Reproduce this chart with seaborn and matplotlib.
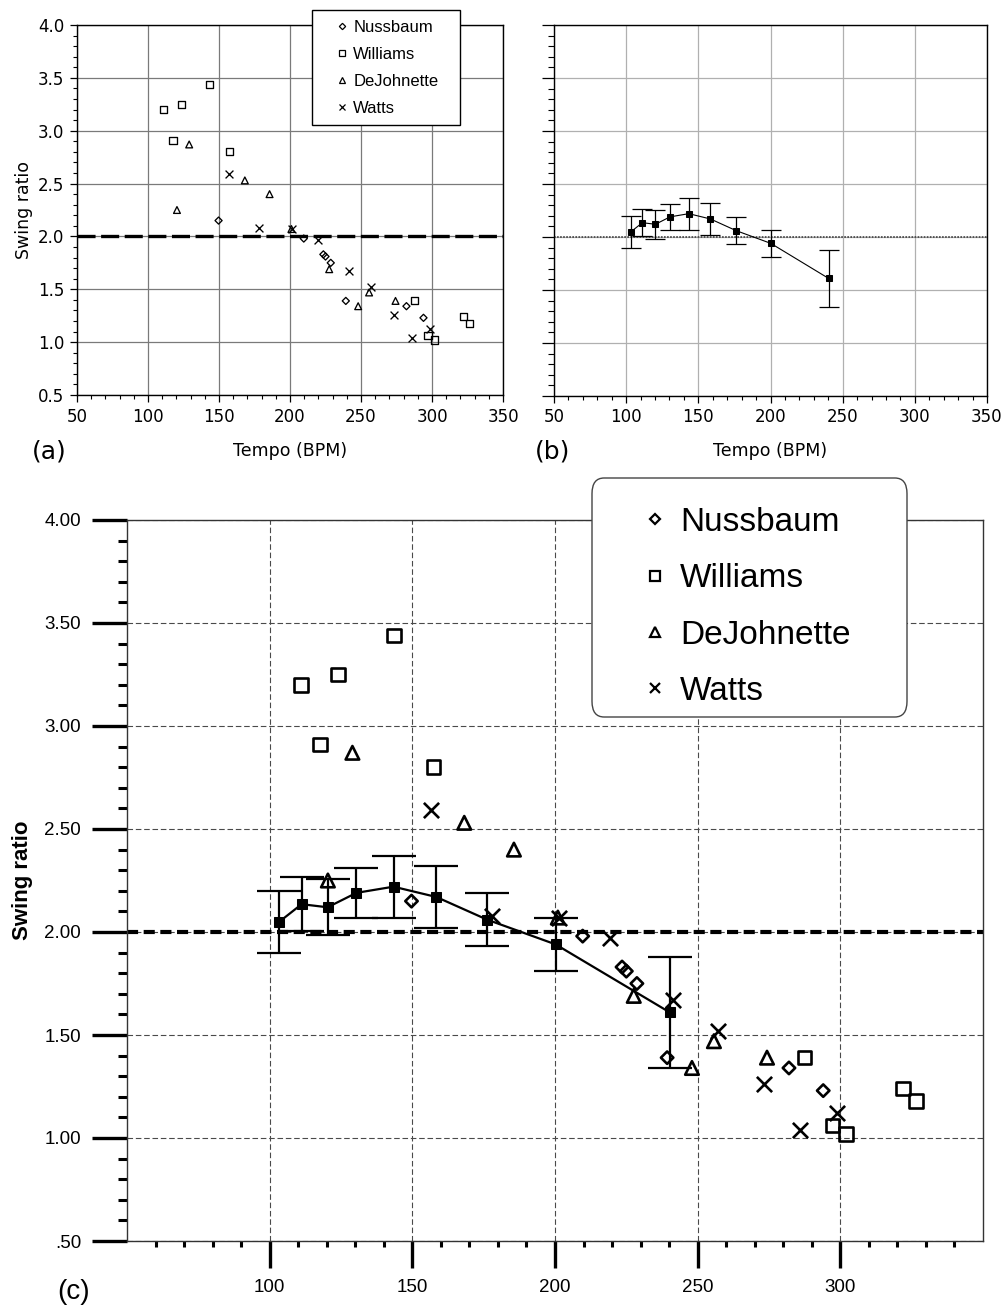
import numpy as np
import pandas as pd
import matplotlib
matplotlib.use("Agg")
import matplotlib.pyplot as plt
import seaborn as sns
from matplotlib.lines import Line2D
from matplotlib.patches import FancyBboxPatch, Rectangle
from matplotlib.ticker import FixedLocator

# ---------------- data ----------------
artists = ["Nussbaum", "Williams", "DeJohnette", "Watts"]

nussbaum_tempo = [149.7, 209.7, 223.5, 225.0, 228.7, 239.3, 282.0, 294.0]
nussbaum_ratio = [2.15, 1.98, 1.83, 1.81, 1.75, 1.39, 1.34, 1.23]

williams_tempo = [111.0, 117.6, 123.9, 143.6, 157.4, 287.4, 297.2, 302.0, 322.0, 326.6]
williams_ratio = [3.20, 2.91, 3.25, 3.44, 2.80, 1.39, 1.06, 1.02, 1.24, 1.18]

dejohnette_tempo = [120.4, 129.0, 168.2, 185.6, 201.0, 227.6, 248.0, 255.7, 274.3]
dejohnette_ratio = [2.25, 2.87, 2.53, 2.40, 2.07, 1.69, 1.34, 1.47, 1.39]

watts_tempo = [156.7, 178.0, 201.3, 219.4, 241.2, 257.1, 273.3, 286.0, 298.9]
watts_ratio = [2.59, 2.08, 2.07, 1.97, 1.67, 1.52, 1.26, 1.04, 1.12]

mean_tempo = [103.4, 111.2, 120.3, 130.4, 143.4, 158.4, 176.2, 200.2, 240.2]
mean_ratio = [2.05, 2.135, 2.12, 2.19, 2.22, 2.17, 2.06, 1.94, 1.61]
mean_err = [0.15, 0.13, 0.135, 0.12, 0.15, 0.15, 0.13, 0.13, 0.27]

reference_ratio = 2.0

ab_xticks = [50, 100, 150, 200, 250, 300, 350]
ab_xtick_labels = ["50", "100", "150", "200", "250", "300", "350"]
a_yticks = [0.5, 1.0, 1.5, 2.0, 2.5, 3.0, 3.5, 4.0]
a_ytick_labels = ["0.5", "1.0", "1.5", "2.0", "2.5", "3.0", "3.5", "4.0"]
c_xticks = [100, 150, 200, 250, 300]
c_xtick_labels = ["100", "150", "200", "250", "300"]
c_yticks = [0.5, 1.0, 1.5, 2.0, 2.5, 3.0, 3.5, 4.0]
c_ytick_labels = [".50", "1.00", "1.50", "2.00", "2.50", "3.00", "3.50", "4.00"]

series = {
    "Nussbaum": (nussbaum_tempo, nussbaum_ratio),
    "Williams": (williams_tempo, williams_ratio),
    "DeJohnette": (dejohnette_tempo, dejohnette_ratio),
    "Watts": (watts_tempo, watts_ratio),
}
markers = {"Nussbaum": "D", "Williams": "s", "DeJohnette": "^", "Watts": "x"}

# ---------------- style ----------------
sns.set_theme(style="ticks")
plt.rcParams["font.family"] = ["DejaVu Sans"]
plt.rcParams["lines.scale_dashes"] = False
plt.rcParams["axes.edgecolor"] = "black"
plt.rcParams["xtick.color"] = "black"
plt.rcParams["ytick.color"] = "black"
plt.rcParams["text.color"] = "black"
plt.rcParams["axes.labelcolor"] = "black"

W, H = 1007, 1305
fig = plt.figure(figsize=(W / 100, H / 100), dpi=100)
fig.patch.set_facecolor("white")


def ax_px(l, t, r, b):
    return fig.add_axes([l / W, 1 - b / H, (r - l) / W, (b - t) / H])


def fx(px):
    return px / W


def fy(py):
    return 1 - py / H


def draw_scatter(ax, sizes, lw):
    for name in artists:
        t, r = series[name]
        m = markers[name]
        if m == "x":
            sns.scatterplot(x=t, y=r, ax=ax, marker="x", s=sizes[name],
                            color="black", linewidth=lw, zorder=5, legend=False)
        else:
            sns.scatterplot(x=t, y=r, ax=ax, marker=m, s=sizes[name],
                            facecolor="none", edgecolor="black", linewidth=lw,
                            zorder=5, legend=False)


def draw_means(ax, lw, ms, capsize, elw):
    ax.errorbar(mean_tempo, mean_ratio, yerr=mean_err, fmt="none", ecolor="black",
                elinewidth=elw, capsize=capsize, capthick=elw, zorder=3)
    sns.lineplot(x=mean_tempo, y=mean_ratio, ax=ax, color="black", linewidth=lw,
                 marker="s", markersize=ms, markeredgecolor="black",
                 markerfacecolor="black", sort=False, zorder=4, legend=False)


# ---------------- panel (a) ----------------
axa = ax_px(77, 25, 503, 395)
axa.set_axisbelow(True)
axa.grid(True, which="major", color="#7a7a7a", lw=0.9)
draw_scatter(axa, {"Nussbaum": 13, "Williams": 26, "DeJohnette": 24, "Watts": 32}, 0.95)
axa.axhline(reference_ratio, color="black", lw=2.4, dashes=(13, 4), zorder=2)
axa.set_xlim(50, 350)
axa.set_ylim(0.5, 4.0)
axa.set_xticks(ab_xticks)
axa.set_xticklabels(ab_xtick_labels)
axa.set_yticks(a_yticks)
axa.set_yticklabels(a_ytick_labels)
axa.xaxis.set_minor_locator(FixedLocator(np.arange(50, 351, 10)))
axa.yaxis.set_minor_locator(FixedLocator(np.arange(0.5, 4.01, 0.1)))
axa.tick_params(which="major", length=5, width=0.9, labelsize=12, direction="out", pad=4)
axa.tick_params(which="minor", length=3, width=0.8, direction="out")
for s in axa.spines.values():
    s.set_linewidth(1.0)
    s.set_visible(True)
axa.set_xlabel("Tempo (BPM)", fontsize=12.5)
axa.xaxis.set_label_coords(0.5, -0.127)
axa.xaxis.label.set_va("top")
axa.set_ylabel("Swing ratio", fontsize=12.5)
axa.yaxis.set_label_coords(-0.103, 0.5)

# ---------------- panel (b) ----------------
axb = ax_px(554, 25, 987, 396)
axb.set_axisbelow(True)
axb.grid(True, which="major", color="#b0b0b0", lw=0.9)
axb.axhline(reference_ratio, color="#333333", lw=1.1, dashes=(1.2, 1.0), zorder=2)
draw_means(axb, lw=0.8, ms=4.5, capsize=7.5, elw=0.9)
axb.set_xlim(50, 350)
axb.set_ylim(0.5, 4.0)
axb.set_xticks(ab_xticks)
axb.set_xticklabels(ab_xtick_labels)
axb.set_yticks(a_yticks)
axb.set_yticklabels([])
axb.xaxis.set_minor_locator(FixedLocator(np.arange(50, 351, 10)))
axb.yaxis.set_minor_locator(FixedLocator(np.arange(0.5, 4.01, 0.1)))
axb.tick_params(axis="y", which="major", length=9, width=0.9, direction="out")
axb.tick_params(axis="y", which="minor", length=4, width=0.8, direction="out")
axb.tick_params(axis="x", which="major", length=5, width=0.9, labelsize=12, direction="out", pad=4)
axb.tick_params(axis="x", which="minor", length=3, width=0.8, direction="out")
for s in axb.spines.values():
    s.set_linewidth(1.0)
    s.set_visible(True)
axb.set_xlabel("Tempo (BPM)", fontsize=12.5)
axb.xaxis.set_label_coords(0.5, -0.124)
axb.xaxis.label.set_va("top")
axb.set_ylabel("")

# ---------------- panel (c) ----------------
axc = ax_px(127, 520, 983, 1241)
axc.set_axisbelow(True)
axc.grid(True, which="major", color="#4a4a4a", lw=0.8, linestyle=(0, (4, 2)))
axc.axhline(reference_ratio, color="black", lw=3.0, dashes=(8, 4), zorder=2)
draw_means(axc, lw=1.6, ms=7.5, capsize=16, elw=1.6)
draw_scatter(axc, {"Nussbaum": 40, "Williams": 95, "DeJohnette": 95, "Watts": 120}, 1.9)
axc.set_xlim(50, 350)
axc.set_ylim(0.5, 4.0)
axc.set_xticks(c_xticks)
axc.set_xticklabels(c_xtick_labels, fontfamily="Liberation Sans")
axc.set_yticks(c_yticks)
axc.set_yticklabels(c_ytick_labels, fontfamily="Liberation Sans")
axc.xaxis.set_minor_locator(FixedLocator(np.arange(60, 341, 10)))
axc.yaxis.set_minor_locator(FixedLocator(np.arange(0.6, 3.95, 0.1)))
axc.tick_params(axis="y", which="major", length=25, width=2.4, direction="out", labelsize=13.5, pad=8)
axc.tick_params(axis="y", which="minor", length=6.5, width=2.2, direction="out")
axc.tick_params(axis="x", which="major", length=19.5, width=2.4, direction="out", labelsize=13.5, pad=8)
axc.tick_params(axis="x", which="minor", length=4.5, width=2.2, direction="out")
for s in axc.spines.values():
    s.set_linewidth(1.0)
    s.set_color("#333333")
    s.set_visible(True)
axc.set_xlabel("")
axc.set_ylabel("Swing ratio", fontsize=16, fontweight="bold", fontfamily="Liberation Sans")
axc.yaxis.set_label_coords(-0.11, 0.5)

# ---------------- legends ----------------
# panel (a) legend
fig.patches.append(Rectangle((fx(312), fy(125)), fx(460) - fx(312), fy(10) - fy(125),
                             transform=fig.transFigure, facecolor="white",
                             edgecolor="black", lw=1.0, zorder=3))
ms_a = {"Nussbaum": 3.2, "Williams": 4.2, "DeJohnette": 4.2, "Watts": 4.6}
handles_a = [Line2D([], [], linestyle="none", marker=markers[n], markersize=ms_a[n],
                    markerfacecolor="none", markeredgecolor="black", markeredgewidth=0.9,
                    color="black") for n in artists]
leg_a = fig.legend(handles_a, artists, loc="upper left",
                   bbox_to_anchor=(fx(338), fy(20)), bbox_transform=fig.transFigure,
                   frameon=False, borderpad=0, borderaxespad=0, handlelength=0.5,
                   handletextpad=0.42, labelspacing=0.72,
                   prop={"family": "Liberation Sans", "size": 12})
leg_a.set_zorder(6)

# panel (c) legend
fig.patches.append(FancyBboxPatch((fx(592), fy(717)), fx(907) - fx(592), fy(478) - fy(717),
                                  boxstyle="round,pad=0,rounding_size=0.012",
                                  transform=fig.transFigure, facecolor="white",
                                  edgecolor="#444444", lw=1.0, zorder=3))
ms_c = {"Nussbaum": 5.5, "Williams": 7.0, "DeJohnette": 7.0, "Watts": 7.5}
handles_c = [Line2D([], [], linestyle="none", marker=markers[n], markersize=ms_c[n],
                    markerfacecolor="none", markeredgecolor="black", markeredgewidth=1.6,
                    color="black") for n in artists]
leg_c = fig.legend(handles_c, artists, loc="upper left",
                   bbox_to_anchor=(fx(642), fy(507)), bbox_transform=fig.transFigure,
                   frameon=False, borderpad=0, borderaxespad=0, handlelength=0.8,
                   handletextpad=0.35, labelspacing=0.76,
                   prop={"family": "Liberation Sans", "size": 24})
leg_c.set_zorder(6)

# ---------------- panel letters ----------------
fig.text(fx(32), fy(451), "(a)", fontsize=18, va="center", ha="left")
fig.text(fx(535), fy(451), "(b)", fontsize=18, va="center", ha="left")
fig.text(fx(57), fy(1292), "(c)", fontsize=20, va="center", ha="left",
         fontfamily="Liberation Sans")

fig.savefig("out.png", dpi=100, facecolor="white")
